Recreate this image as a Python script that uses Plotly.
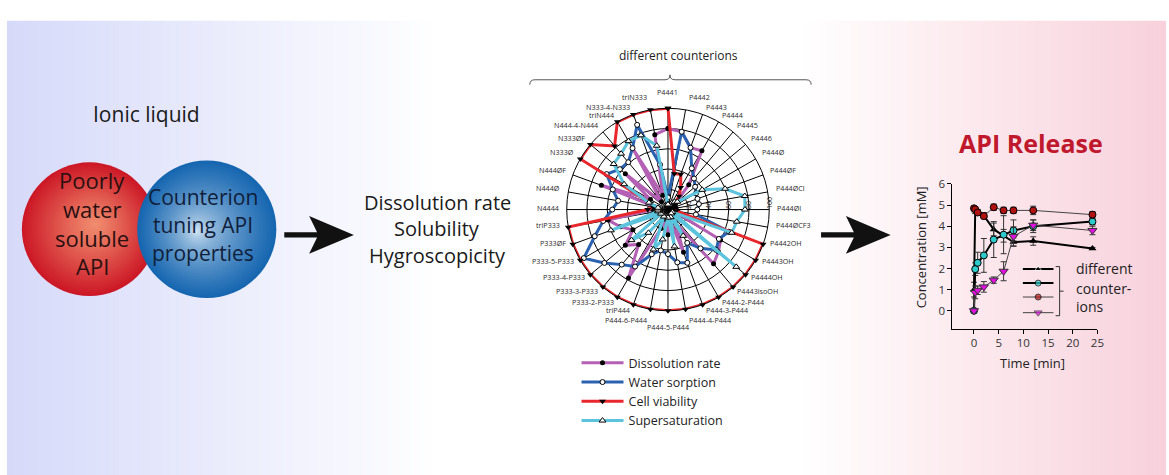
import math
import plotly.graph_objects as go

W, H = 1169, 475

# ---------------- radar data (36 counterions, clockwise from top) ----------------
counterions = ["P4441", "P4442", "P4443", "P4444", "P4445", "P4446", "P444Ø", "P444ØF",
               "P444ØCl", "P444ØI", "P444ØCF3", "P4442OH", "P4443OH", "P4444OH",
               "P4443isoOH", "P444-2-P444", "P444-3-P444", "P444-4-P444", "P444-5-P444",
               "P444-6-P444", "triP444", "P333-2-P333", "P333-3-P333", "P333-4-P333",
               "P333-5-P333", "P333ØF", "triP333", "N4444", "N444Ø", "N444ØF", "N333Ø",
               "N333ØF", "N444-4-N444", "triN444", "N333-4-N333", "triN333"]

dissolution_rate = [80, 78, 65, 67, 32, 10, 8, 6, 8, 6, 10, 8, 60, 65, 70, 15, 45, 10,
                    25, 10, 20, 78, 45, 55, 40, 50, 60, 15, 10, 70, 20, 55, 10, 70, 15, 75]
water_sorption = [12, 78, 65, 47, 40, 35, 32, 31, 31, 29, 28, 64, 58, 62, 50, 38, 56, 53,
                  44, 41, 47, 65, 71, 82, 96, 77, 65, 55, 50, 58, 70, 62, 61, 70, 89, 45]
cell_viability = [100, 36, 37, 25, 17, 8, 5, 5, 5, 5, 8, 100, 100, 100, 100, 100, 100, 100,
                  100, 100, 100, 100, 100, 100, 100, 100, 100, 20, 15, 18, 100, 100, 82,
                  100, 100, 100]
supersaturation = [5, 5, 5, 8, 10, 12, 39, 60, 77, 76, 69, 67, 5, 88, 5, 30, 8, 37, 8, 30,
                   42, 8, 30, 47, 8, 60, 10, 10, 10, 20, 50, 70, 72, 78, 78, 64]

radial_ticks = [20, 40, 60, 80, 100]

# ---------------- release profiles ----------------
time_min = [0, 0.25, 0.75, 2, 4, 6, 8, 12, 24]
conc_a = [1.0, 4.75, 4.7, 4.5, 3.85, 3.55, 3.25, 3.3, 2.95]
err_a = [0.35, 0.15, 0.1, 0.15, 0.3, 0.3, 0.2, 0.2, 0.05]
conc_b = [0.0, 1.97, 2.27, 2.62, 3.37, 3.6, 3.8, 4.0, 4.22]
err_b = [0.05, 0.3, 0.5, 0.8, 0.85, 0.9, 0.5, 0.3, 0.15]
conc_c = [4.85, 4.8, 4.65, 4.48, 4.9, 4.75, 4.75, 4.75, 4.55]
err_c = [0.1, 0.1, 0.1, 0.1, 0.15, 0.15, 0.15, 0.2, 0.15]
conc_d = [0.0, 0.87, 0.97, 1.13, 1.45, 1.87, 3.52, 4.05, 3.8]
err_d = [0.05, 0.3, 0.2, 0.25, 0.15, 0.45, 0.45, 0.25, 0.2]
time_ticks = [0, 5, 10, 15, 20, 25]
conc_ticks = [0, 1, 2, 3, 4, 5, 6]

FONT = "Open Sans"


def px(x, y):
    return x / W, 1 - y / H


def pth(cmds):
    out = []
    for c in cmds:
        op, *pts = c
        coords = []
        for i in range(0, len(pts), 2):
            a, b = px(pts[i], pts[i + 1])
            coords.append(f"{a:.5f},{b:.5f}")
        out.append(op + " " + " ".join(coords))
    return " ".join(out)


def lerp(c1, c2, t):
    return "rgb(%d,%d,%d)" % tuple(round(a + (b - a) * t) for a, b in zip(c1, c2))


shapes = []

# background panel: lavender on the left, pink on the right
step = 4
for x in range(7, 440, step):
    t = (x - 7) / (440 - 7)
    x0, y0 = px(x, 475)
    x1, y1 = px(x + step + 1, 13)
    shapes.append(dict(type="rect", xref="paper", yref="paper", x0=x0, x1=x1, y0=y0, y1=y1,
                       fillcolor=lerp((214, 218, 249), (255, 255, 255), t), line_width=0,
                       layer="below"))
for x in range(800, W, step):
    t = (x - 800) / (W - 800)
    x0, y0 = px(x, 475)
    x1, y1 = px(x + step + 1, 13)
    shapes.append(dict(type="rect", xref="paper", yref="paper", x0=x0, x1=x1, y0=y0, y1=y1,
                       fillcolor=lerp((255, 255, 255), (248, 209, 220), t), line_width=0,
                       layer="below"))


def ball(cx, cy, r, fx, fy, inner, outer, gamma, n=36):
    for i in range(n):
        t = 1 - i / n
        rr = r * t
        ccx = fx + (cx - fx) * t
        ccy = fy + (cy - fy) * t
        x0, y1 = px(ccx - rr, ccy - rr)
        x1, y0 = px(ccx + rr, ccy + rr)
        shapes.append(dict(type="circle", xref="paper", yref="paper", x0=x0, x1=x1,
                           y0=y0, y1=y1, fillcolor=lerp(inner, outer, t ** gamma),
                           line_width=0))


ball(90, 225, 68, 96, 220, (241, 142, 112), (204, 24, 38), 1.1)
ball(208, 225, 70, 197, 227, (240, 248, 253), (22, 102, 176), 0.55)

# arrows
for dx in (0, 540):
    shapes.append(dict(type="path", xref="paper", yref="paper", line_width=0,
                       fillcolor="#111",
                       path=pth([("M", 286 + dx, 228.2), ("L", 319 + dx, 228.2),
                                 ("L", 311 + dx, 211.5), ("L", 356 + dx, 230.8),
                                 ("L", 311 + dx, 250), ("L", 319 + dx, 233.4),
                                 ("L", 286 + dx, 233.4)]) + " Z"))

# brace over the radar
shapes.append(dict(type="path", xref="paper", yref="paper", line=dict(color="#555", width=1),
                   path=pth([("M", 533, 78), ("Q", 533, 73, 538, 73), ("L", 669, 73),
                             ("Q", 674, 73, 674, 68), ("Q", 674, 73, 679, 73),
                             ("L", 811, 73), ("Q", 816, 73, 816, 78)])))

# bracket in the release plot
shapes.append(dict(type="path", xref="paper", yref="paper", line=dict(color="#333", width=1),
                   path=pth([("M", 1062, 263), ("L", 1066, 263), ("L", 1066, 313),
                             ("L", 1062, 313), ("M", 1066, 288), ("L", 1070, 288)])))

fig = go.Figure()

# ---------------- radar ----------------
series = [
    ("Dissolution rate", dissolution_rate, "#b460b4",
     dict(symbol="circle", color="#000", size=5)),
    ("Water sorption", water_sorption, "#2a62b0",
     dict(symbol="circle", color="#fff", size=5, line=dict(color="#000", width=1))),
    ("Cell viability", cell_viability, "#e8262c",
     dict(symbol="triangle-down", color="#000", size=6)),
    ("Supersaturation", supersaturation, "#5cc3dc",
     dict(symbol="triangle-up", color="#fff", size=6, line=dict(color="#000", width=1))),
]
for name, vals, col, mk in series:
    fig.add_trace(go.Scatterpolar(
        r=vals + vals[:1], theta=counterions + counterions[:1], name=name,
        mode="lines+markers", line=dict(color=col, width=3), marker=mk))

cx, cy, R = 672, 205, 103
fig.update_layout(polar=dict(
    domain=dict(x=[(cx - R) / W, (cx + R) / W], y=[1 - (cy + R) / H, 1 - (cy - R) / H]),
    bgcolor="rgba(0,0,0,0)",
    angularaxis=dict(type="category", categoryarray=counterions, rotation=90,
                     direction="clockwise", showticklabels=False,
                     showline=True, linecolor="#000", linewidth=1, gridcolor="#000",
                     gridwidth=0.7, ticks=""),
    radialaxis=dict(range=[0, 100], tickvals=radial_ticks, angle=0, tickangle=-90,
                    side="counterclockwise", showline=False, gridcolor="#000",
                    gridwidth=0.7, ticks="", tickfont=dict(size=7, color="#222")),
))

# ---------------- release curves ----------------
curves = [
    (conc_a, err_a, dict(color="#000", width=2),
     dict(symbol="triangle-up", color="#000", size=7)),
    (conc_b, err_b, dict(color="#000", width=2),
     dict(symbol="circle", color="#2fcaca", size=7, line=dict(color="#000", width=1))),
    (conc_c, err_c, dict(color="#444", width=1),
     dict(symbol="circle", color="#b01212", size=7, line=dict(color="#000", width=1))),
    (conc_d, err_d, dict(color="#444", width=1),
     dict(symbol="triangle-down", color="#e010e0", size=8, line=dict(color="#333", width=1))),
]
for vals, err, ln, mk in curves:
    fig.add_trace(go.Scatter(
        x=time_min, y=vals, mode="lines+markers", line=ln, marker=mk, showlegend=False,
        error_y=dict(type="data", array=err, thickness=1, width=3, color="#333")))

# key samples inside the release plot
key_rows = [1.98, 1.31, 0.65, -0.09]
for (vals, err, ln, mk), yk in zip(curves, key_rows):
    fig.add_trace(go.Scatter(
        x=[9.9, 13.0, 16.1], y=[yk, yk, yk], mode="lines+markers", line=ln,
        marker=dict(mk, size=[0, mk["size"] - 1, 0]), showlegend=False, hoverinfo="skip"))

axis_common = dict(showline=True, linecolor="#000", linewidth=1, ticks="outside", ticklen=4,
                   tickcolor="#000", showgrid=False, zeroline=False,
                   tickfont=dict(size=11.5, color="#333"))
fig.update_layout(
    xaxis=dict(axis_common, domain=[958 / W, 1104 / W], range=[-4.4, 25], tickvals=time_ticks),
    yaxis=dict(axis_common, domain=[1 - 326 / H, 1 - 179 / H], range=[-0.84, 6],
               tickvals=conc_ticks),
)

# ---------------- text ----------------
ann = []


def text(x, y, s, size, color="#1a1a1a", bold=False, anchor="center", angle=0, pad=1):
    ax, ay = px(x, y - (0.28 * size if angle == 0 else 0))
    ann.append(dict(x=ax, y=ay, xref="paper", yref="paper", text=f"<b>{s}</b>" if bold else s,
                    showarrow=False, xanchor=anchor, yanchor="middle", textangle=angle,
                    borderpad=pad, font=dict(size=size, color=color, family=FONT)))


# counterion names around the radar rim
n_cat = len(counterions)
bottom_drop = {10: 13.0, 20: 7.5, 30: 7.0}
for i, name in enumerate(counterions):
    deg = 360 * i / n_cat
    th = math.radians(deg)
    s, c = math.sin(th), math.cos(th)
    ex, ey = cx + R * s, cy - R * c
    if abs(s) < 0.05:
        text(ex, ey - 15 if c > 0 else ey + 18, name, 7.2, "#2a2a2a", pad=0)
        continue
    gap = 2 + 4 * abs(s) ** 4
    off_bottom = round(abs(180 - deg))
    if off_bottom in bottom_drop:
        dy = bottom_drop[off_bottom]
    elif c < 0:
        dy = 11 * c * c
    else:
        dy = -(5 * min(1.0, 2 * c) + 6 * max(0.0, (c - 0.94) / 0.045))
    text(ex + (gap if s > 0 else -gap), ey + dy, name, 7.2, "#2a2a2a",
         anchor="left" if s > 0 else "right", pad=0)

text(147, 114, "Ionic liquid", 21)
for s, y in zip(["Poorly", "water", "soluble", "API"], [181, 211, 240, 269]):
    text(93, y, s, 22, "#2a1010")
for s, y in zip(["Counterion", "tuning API", "properties"], [198, 227, 255]):
    text(204, y, s, 21, "#10203a")
for s, y in zip(["Dissolution rate", "Solubility", "Hygroscopicity"], [203, 230, 257]):
    text(440, y, s, 20)
text(683, 52, "different counterions", 12, "#222")
text(1037, 144, "API Release", 25, "#c0182d", bold=True)
text(1039, 365, "Time [min]", 13, "#222")
text(926, 243, "Concentration [mM]", 13, "#222", angle=-90)
for s, y in zip(["different", "counter-", "ions"], [269, 289, 308]):
    text(1080, y, s, 14, "#222", anchor="left")

fig.update_layout(
    width=W, height=H, margin=dict(l=0, r=0, t=0, b=0), paper_bgcolor="#fff",
    plot_bgcolor="rgba(0,0,0,0)", font=dict(family=FONT, color="#222"),
    shapes=shapes, annotations=ann,
    legend=dict(x=580 / W, y=1 - 346 / H, xanchor="left", yanchor="top",
                bgcolor="rgba(0,0,0,0)", font=dict(size=12.5, color="#222", family=FONT),
                tracegroupgap=0, itemwidth=42),
)

fig.write_html("out.html")
